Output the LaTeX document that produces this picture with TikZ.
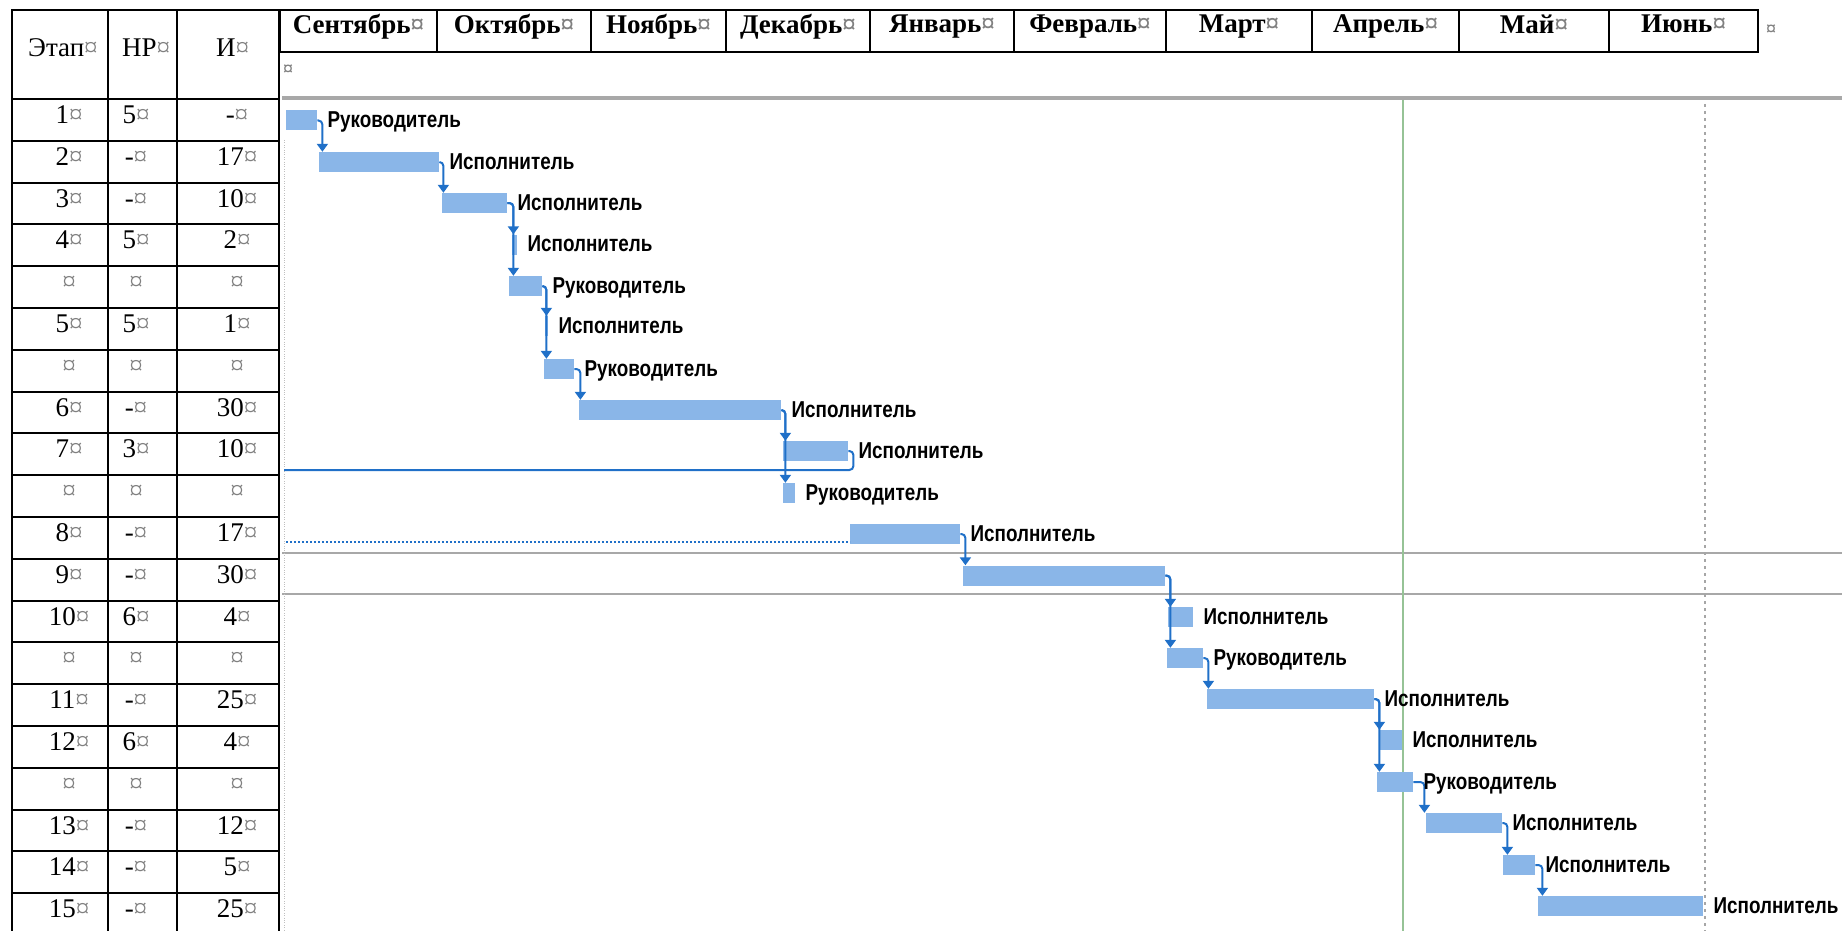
\documentclass[tikz,border=0pt]{standalone}
\usepackage{fontspec}
\setmainfont{Liberation Serif}
\newfontfamily\barfont[FakeStretch = 0.82]{Liberation Sans}
\usetikzlibrary{arrows.meta, calc}

\definecolor{barblue}{RGB}{138,182,232}
\definecolor{linkblue}{RGB}{32,112,200}
\definecolor{nowgreen}{RGB}{150,195,150}
\definecolor{rulegray}{RGB}{168,168,168}
\newcommand{\mk}{{\color{black!50}¤}}

\begin{document}
\begin{tikzpicture}[x = 1pt, y = -1pt,
                    tline/.style = {line width = 2pt},
                    cell/.style = {anchor = base, inner sep = 0, font = \fontsize{27}{30}\selectfont},
                    month/.style = {draw, line width = 2pt, minimum height = 42pt, inner sep = 0, text depth = 14pt, font = \fontsize{27}{30}\selectfont\bfseries},
                    bar/.style = {rectangle, fill = barblue, minimum height = 20pt, inner sep = 0, anchor = west},
                    who/.style = {anchor = base west, inner sep = 0, font = \barfont\fontsize{23}{26}\selectfont\bfseries},
                    link/.style = {draw = linkblue, line width = 2pt, rounded corners = 4pt, -{Triangle[width = 11pt, length = 8pt]}}]
  \useasboundingbox (0,0) rectangle (1842,931);

  \draw [tline] (12,10) rectangle (279,940);
  \draw [tline] (108,10) -- (108,940);
  \draw [tline] (177,10) -- (177,940);
  \foreach \k in {0,...,19}
    \draw [tline] (12,99+41.8*\k) -- (279,99+41.8*\k);

  \node [cell, anchor = base west] (E00) at (28,57) {Этап\mk};
  \node [cell, anchor = base west] (R00) at (122,57) {НР\mk};
  \node [cell, anchor = base west] (I00) at (216,57) {И\mk};

  \node [cell] (E01) at (69,123.5) {1\mk};  \node [cell] (R01) at (136,123.5) {5\mk}; \node [cell] (I01) at (237,123.5) {-\mk};
  \node [cell] (E02) at (69,165.3) {2\mk};  \node [cell] (R02) at (136,165.3) {-\mk}; \node [cell] (I02) at (237,165.3) {17\mk};
  \node [cell] (E03) at (69,207.1) {3\mk};  \node [cell] (R03) at (136,207.1) {-\mk}; \node [cell] (I03) at (237,207.1) {10\mk};
  \node [cell] (E04) at (69,248.9) {4\mk};  \node [cell] (R04) at (136,248.9) {5\mk}; \node [cell] (I04) at (237,248.9) {2\mk};
  \node [cell] (E05) at (69,290.7) {\mk};   \node [cell] (R05) at (136,290.7) {\mk};  \node [cell] (I05) at (237,290.7) {\mk};
  \node [cell] (E06) at (69,332.5) {5\mk};  \node [cell] (R06) at (136,332.5) {5\mk}; \node [cell] (I06) at (237,332.5) {1\mk};
  \node [cell] (E07) at (69,374.3) {\mk};   \node [cell] (R07) at (136,374.3) {\mk};  \node [cell] (I07) at (237,374.3) {\mk};
  \node [cell] (E08) at (69,416.1) {6\mk};  \node [cell] (R08) at (136,416.1) {-\mk}; \node [cell] (I08) at (237,416.1) {30\mk};
  \node [cell] (E09) at (69,457.9) {7\mk};  \node [cell] (R09) at (136,457.9) {3\mk}; \node [cell] (I09) at (237,457.9) {10\mk};
  \node [cell] (E10) at (69,499.7) {\mk};   \node [cell] (R10) at (136,499.7) {\mk};  \node [cell] (I10) at (237,499.7) {\mk};
  \node [cell] (E11) at (69,541.5) {8\mk};  \node [cell] (R11) at (136,541.5) {-\mk}; \node [cell] (I11) at (237,541.5) {17\mk};
  \node [cell] (E12) at (69,583.3) {9\mk};  \node [cell] (R12) at (136,583.3) {-\mk}; \node [cell] (I12) at (237,583.3) {30\mk};
  \node [cell] (E13) at (69,625.1) {10\mk}; \node [cell] (R13) at (136,625.1) {6\mk}; \node [cell] (I13) at (237,625.1) {4\mk};
  \node [cell] (E14) at (69,666.9) {\mk};   \node [cell] (R14) at (136,666.9) {\mk};  \node [cell] (I14) at (237,666.9) {\mk};
  \node [cell] (E15) at (69,708.7) {11\mk}; \node [cell] (R15) at (136,708.7) {-\mk}; \node [cell] (I15) at (237,708.7) {25\mk};
  \node [cell] (E16) at (69,750.5) {12\mk}; \node [cell] (R16) at (136,750.5) {6\mk}; \node [cell] (I16) at (237,750.5) {4\mk};
  \node [cell] (E17) at (69,792.3) {\mk};   \node [cell] (R17) at (136,792.3) {\mk};  \node [cell] (I17) at (237,792.3) {\mk};
  \node [cell] (E18) at (69,834.1) {13\mk}; \node [cell] (R18) at (136,834.1) {-\mk}; \node [cell] (I18) at (237,834.1) {12\mk};
  \node [cell] (E19) at (69,875.9) {14\mk}; \node [cell] (R19) at (136,875.9) {-\mk}; \node [cell] (I19) at (237,875.9) {5\mk};
  \node [cell] (E20) at (69,917.7) {15\mk}; \node [cell] (R20) at (136,917.7) {-\mk}; \node [cell] (I20) at (237,917.7) {25\mk};

  \node [month, minimum width = 157pt] (M01) at (358.5,31) {Сентябрь\mk};
  \node [month, minimum width = 154pt] (M02) at (514,31) {Октябрь\mk};
  \node [month, minimum width = 135pt] (M03) at (658.5,31) {Ноябрь\mk};
  \node [month, minimum width = 144pt] (M04) at (798,31) {Декабрь\mk};
  \node [month, minimum width = 144pt] (M05) at (942,31) {Январь\mk};
  \node [month, minimum width = 152pt] (M06) at (1090,31) {Февраль\mk};
  \node [month, minimum width = 146pt] (M07) at (1239,31) {Март\mk};
  \node [month, minimum width = 147pt] (M08) at (1385.5,31) {Апрель\mk};
  \node [month, minimum width = 150pt] (M09) at (1534,31) {Май\mk};
  \node [month, minimum width = 149pt] (M10) at (1683.5,31) {Июнь\mk};
  \node [cell, anchor = west, font = \fontsize{20}{22}\selectfont\bfseries] (X01) at (1766,30) {\mk};
  \node [cell, anchor = west, font = \fontsize{20}{22}\selectfont\bfseries] (X02) at (283,70) {\mk};

  \draw [rulegray, line width = 3.5pt] (282,98) -- (1842,98);
  \draw [rulegray, line width = 2.5pt] (282,553) -- (1842,553);
  \draw [rulegray, line width = 2.5pt] (282,594) -- (1842,594);
  \draw [black!25, dotted] (284,140) -- (284,931);
  \draw [nowgreen, line width = 1.5pt] (1403,100) -- (1403,931);
  \draw [black!35, line width = 1.2pt, dash pattern = on 3pt off 4pt] (1705,104) -- (1705,931);

  \node [bar, minimum width = 31pt] (G01) at (286,120.5) {};
  \node [bar, minimum width = 120pt] (G02) at (319,162) {};
  \node [bar, minimum width = 65pt] (G03) at (442,203) {};
  \node [bar, minimum width = 5pt] (G04) at (512,244.5) {};
  \node [bar, minimum width = 33pt] (G05) at (509,286) {};
  \node [bar, minimum width = 3pt] (G06) at (545,326) {};
  \node [bar, minimum width = 30pt] (G07) at (544,369) {};
  \node [bar, minimum width = 202pt] (G08) at (579,410) {};
  \node [bar, minimum width = 65pt] (G09) at (783,451) {};
  \node [bar, minimum width = 12pt] (G10) at (783,493) {};
  \node [bar, minimum width = 110pt] (G11) at (850,534) {};
  \node [bar, minimum width = 202pt] (G12) at (963,575.5) {};
  \node [bar, minimum width = 25pt] (G13) at (1168,617) {};
  \node [bar, minimum width = 36pt] (G14) at (1167,658) {};
  \node [bar, minimum width = 167pt] (G15) at (1207,699) {};
  \node [bar, minimum width = 23pt] (G16) at (1379,740) {};
  \node [bar, minimum width = 36pt] (G17) at (1377,782) {};
  \node [bar, minimum width = 76pt] (G18) at (1426,823) {};
  \node [bar, minimum width = 32pt] (G19) at (1503,865) {};
  \node [bar, minimum width = 165pt] (G20) at (1538,906) {};

  \coordinate (P09) at (284,470);
  \coordinate (P11) at (286,542);
  \draw [linkblue, line width = 2pt, dotted] (P11) -- (P11 -| G11.west);

  \draw [link] (G01.east) -| ($(G01.east |- G02.north) + (5,0)$);
  \draw [link] (G02.east) -| ($(G02.east |- G03.north) + (4,0)$);
  \draw [link] (G03.east) -| ($(G03.east |- G04.north) + (6,0)$);
  \draw [link] (G03.east) -| ($(G03.east |- G05.north) + (6,0)$);
  \draw [link] (G05.east) -| ($(G05.east |- G06.north) + (4,0)$);
  \draw [link] (G05.east) -| ($(G05.east |- G07.north) + (4,0)$);
  \draw [link] (G07.east) -| ($(G07.east |- G08.north) + (6,0)$);
  \draw [link] (G08.east) -| ($(G08.east |- G09.north) + (4,0)$);
  \draw [link] (G08.east) -| ($(G08.east |- G10.north) + (4,0)$);
  \draw [link, -] (G09.east) -| ($(G09.east |- P09) + (5,0)$) -- (P09);
  \draw [link] (G11.east) -| ($(G11.east |- G12.north) + (5,0)$);
  \draw [link] (G12.east) -| ($(G12.east |- G13.north) + (5,0)$);
  \draw [link] (G12.east) -| ($(G12.east |- G14.north) + (5,0)$);
  \draw [link] (G14.east) -| ($(G14.east |- G15.north) + (5,0)$);
  \draw [link] (G15.east) -| ($(G15.east |- G16.north) + (5,0)$);
  \draw [link] (G15.east) -| ($(G15.east |- G17.north) + (5,0)$);
  \draw [link] (G17.east) -| ($(G17.east |- G18.north) + (11,0)$);
  \draw [link] (G18.east) -| ($(G18.east |- G19.north) + (5,0)$);
  \draw [link] (G19.east) -| ($(G19.east |- G20.north) + (7,0)$);

  \node [who] (L01) at ([shift={(10,7)}]G01.east) {Руководитель};
  \node [who] (L02) at ([shift={(10,7)}]G02.east) {Исполнитель};
  \node [who] (L03) at ([shift={(10,7)}]G03.east) {Исполнитель};
  \node [who] (L04) at ([shift={(10,7)}]G04.east) {Исполнитель};
  \node [who] (L05) at ([shift={(10,7)}]G05.east) {Руководитель};
  \node [who] (L06) at ([shift={(10,7)}]G06.east) {Исполнитель};
  \node [who] (L07) at ([shift={(10,7)}]G07.east) {Руководитель};
  \node [who] (L08) at ([shift={(10,7)}]G08.east) {Исполнитель};
  \node [who] (L09) at ([shift={(10,7)}]G09.east) {Исполнитель};
  \node [who] (L10) at ([shift={(10,7)}]G10.east) {Руководитель};
  \node [who] (L11) at ([shift={(10,7)}]G11.east) {Исполнитель};
  \node [who] (L13) at ([shift={(10,7)}]G13.east) {Исполнитель};
  \node [who] (L14) at ([shift={(10,7)}]G14.east) {Руководитель};
  \node [who] (L15) at ([shift={(10,7)}]G15.east) {Исполнитель};
  \node [who] (L16) at ([shift={(10,7)}]G16.east) {Исполнитель};
  \node [who] (L17) at ([shift={(10,7)}]G17.east) {Руководитель};
  \node [who] (L18) at ([shift={(10,7)}]G18.east) {Исполнитель};
  \node [who] (L19) at ([shift={(10,7)}]G19.east) {Исполнитель};
  \node [who] (L20) at ([shift={(10,7)}]G20.east) {Исполнитель};
\end{tikzpicture}
\end{document}
